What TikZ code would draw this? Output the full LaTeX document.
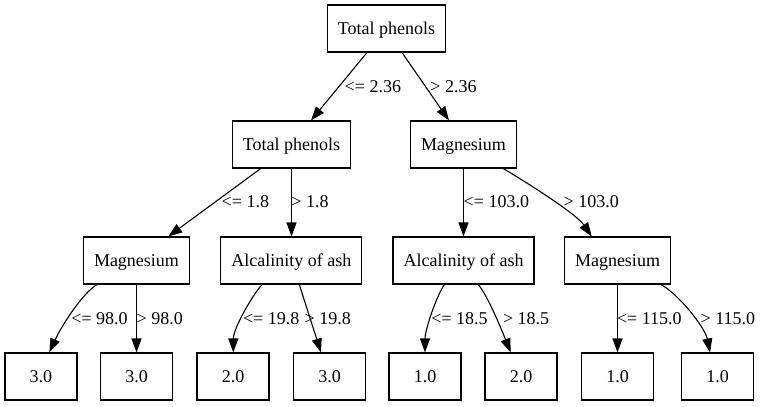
\documentclass[tikz,border=0pt]{standalone}
\usepackage{fontspec}
\setmainfont{Liberation Serif}
\usetikzlibrary{arrows.meta}
\begin{document}
\begin{tikzpicture}[x=1pt,y=-1pt,
  box/.style={draw, line width=1.1pt, rectangle, minimum width=72pt, minimum height=47pt,
    inner xsep=10.5pt, inner ysep=0pt, text height=14.5pt, text depth=3pt,
    font=\fontsize{18}{21}\selectfont},
  edge/.style={draw, line width=1.1pt, -{Triangle[length=14pt,width=10pt]}},
  lbl/.style={anchor=west, inner sep=0pt, font=\fontsize{18}{21}\selectfont}]
\useasboundingbox (0,0) rectangle (764,407);
% nodes
\node[box] (root)  at (386.5,28.5) {Total phenols};
\node[box] (tp2)   at (291.5,144.5)  {Total phenols};
\node[box] (mg2)   at (463.5,144.5) {Magnesium};
\node[box] (mg3a)  at (136.5,260.5)  {Magnesium};
\node[box] (alc3a) at (291.3,260.5) {Alcalinity of ash};
\node[box] (alc3b) at (463.5,260.5)  {Alcalinity of ash};
\node[box] (mg3b)  at (617.5,260.5) {Magnesium};
\node[box] (l1) at (41,376.5)  {3.0};
\node[box] (l2) at (136.5,376.5) {3.0};
\node[box] (l3) at (233,376.5) {2.0};
\node[box] (l4) at (329.5,376.5) {3.0};
\node[box] (l5) at (425,376.5) {1.0};
\node[box] (l6) at (521,376.5) {2.0};
\node[box] (l7) at (617.5,376.5) {1.0};
\node[box] (l8) at (717.5,376.5) {1.0};
% edges
\draw[edge] ([xshift=-19.5pt]root.south) -- ([xshift=19.5pt]tp2.north);
\draw[edge] ([xshift=15.5pt]root.south) -- ([xshift=-14.5pt]mg2.north);
\draw[edge] ([xshift=-30.8pt]tp2.south) -- ([xshift=31.8pt]mg3a.north);
\draw[edge] (tp2.south) -- (tp2.south |- alc3a.north);
\draw[edge] (mg2.south) -- (mg2.south |- alc3b.north);
\draw[edge] ([xshift=39.8pt]mg2.south) .. controls +(30,18) and +(-15,-22) .. ([xshift=-25.8pt]mg3b.north);
\draw[edge] ([xshift=-39.5pt]mg3a.south) .. controls +(-15,9) and +(12,-26) .. ([xshift=8.3pt]l1.north);
\draw[edge] (mg3a.south) -- (l2.north);
\draw[edge] ([xshift=-29.3pt]alc3a.south) .. controls +(-12,14) and +(0,-23) .. ([xshift=0.3pt]l3.north);
\draw[edge] ([xshift=8pt]alc3a.south) -- ([xshift=-8.5pt]l4.north);
\draw[edge] ([xshift=-19.2pt]alc3b.south) .. controls +(-9,14) and +(0,-22) .. (l5.north);
\draw[edge] ([xshift=14.8pt]alc3b.south) .. controls +(10,12) and +(-8,-20) .. ([xshift=-10.3pt]l6.north);
\draw[edge] (mg3b.south) -- (l7.north);
\draw[edge] ([xshift=43.5pt]mg3b.south) .. controls +(18,10) and +(-5,-25) .. ([xshift=-7.5pt]l8.north);
% labels
\node[lbl] (e1) at (344.5,87) {<= 2.36};
\node[lbl] (e2) at (430.2,87) {> 2.36};
\node[lbl] (e3) at (221.5,202) {<= 1.8};
\node[lbl] (e4) at (291.2,202) {> 1.8};
\node[lbl] (e5) at (463.5,202) {<= 103.0};
\node[lbl] (e6) at (563.5,202) {> 103.0};
\node[lbl] (e7) at (71.2,319) {<= 98.0};
\node[lbl] (e8) at (136.5,319) {> 98.0};
\node[lbl] (e9) at (242.8,319) {<= 19.8};
\node[lbl] (e10) at (304.5,319) {> 19.8};
\node[lbl] (e11) at (431.2,319) {<= 18.5};
\node[lbl] (e12) at (502.8,319) {> 18.5};
\node[lbl] (e13) at (616.8,319) {<= 115.0};
\node[lbl] (e14) at (700.5,319) {> 115.0};
\end{tikzpicture}
\end{document}
